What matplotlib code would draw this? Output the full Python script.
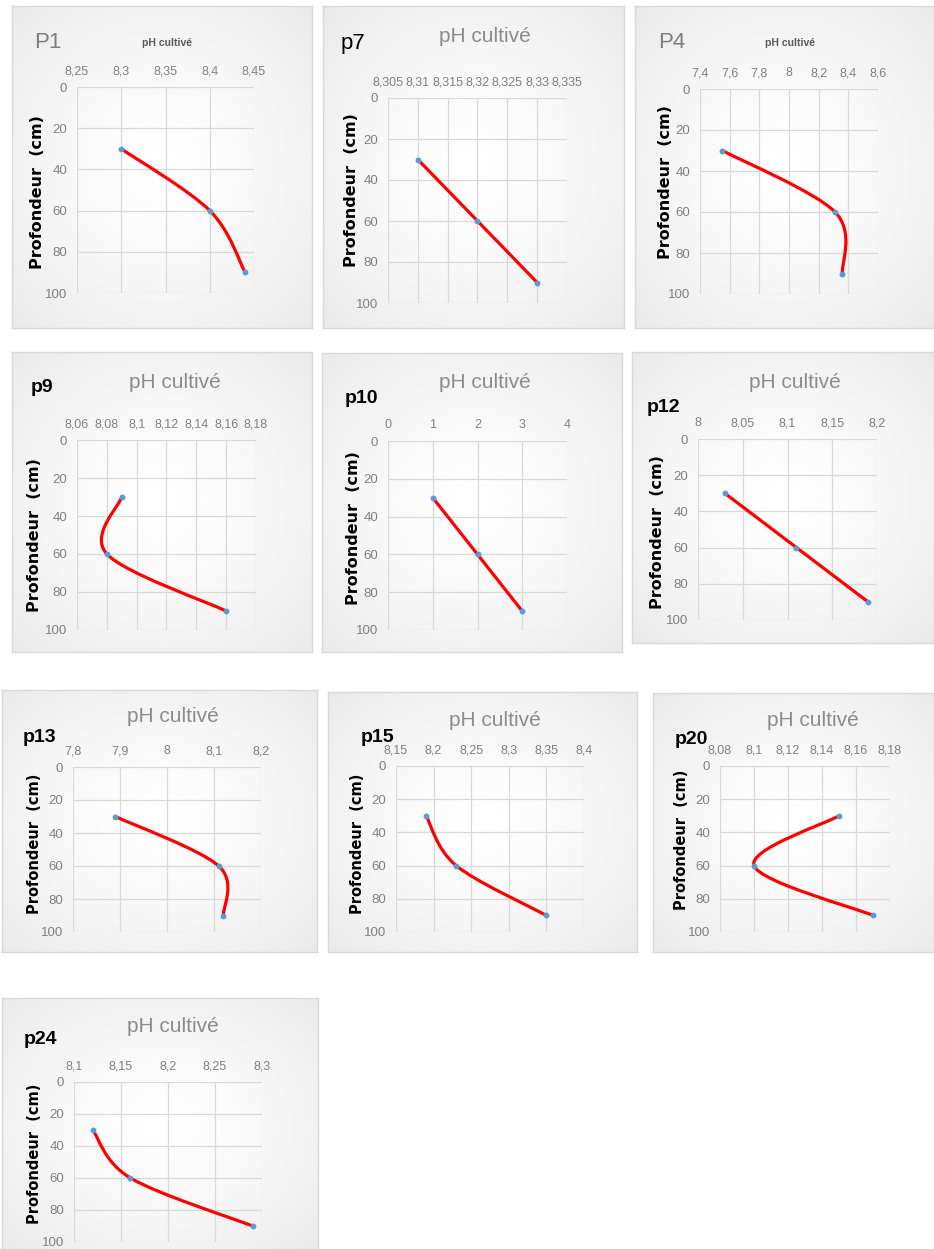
import numpy as np
import matplotlib

matplotlib.use("Agg")
import matplotlib.pyplot as plt
from matplotlib.path import Path
from matplotlib.patches import PathPatch

W, H = 934, 1249
NARROW = ["Liberation Sans Narrow", "Liberation Sans", "DejaVu Sans"]
GRID = "#d9d9d9"
TICK = "#808080"

# depth of the three samples (cm)
DEPTH = [30, 60, 90]
Y_TICKS = [0, 20, 40, 60, 80, 100]

# pH per profile
PH_P1 = [8.30, 8.40, 8.44]
PH_P7 = [8.31, 8.32, 8.33]
PH_P4 = [7.55, 8.31, 8.36]
PH_P9 = [8.09, 8.08, 8.16]
PH_P10 = [1, 2, 3]
PH_P12 = [8.03, 8.11, 8.19]
PH_P13 = [7.89, 8.11, 8.12]
PH_P15 = [8.19, 8.23, 8.35]
PH_P20 = [8.15, 8.10, 8.17]
PH_P24 = [8.12, 8.16, 8.29]

# x tick values per profile
XT_P1 = [8.25, 8.3, 8.35, 8.4, 8.45]
XT_P7 = [8.305, 8.31, 8.315, 8.32, 8.325, 8.33, 8.335]
XT_P4 = [7.4, 7.6, 7.8, 8, 8.2, 8.4, 8.6]
XT_P9 = [8.06, 8.08, 8.1, 8.12, 8.14, 8.16, 8.18]
XT_P10 = [0, 1, 2, 3, 4]
XT_P12 = [8, 8.05, 8.1, 8.15, 8.2]
XT_P13 = [7.8, 7.9, 8, 8.1, 8.2]
XT_P15 = [8.15, 8.2, 8.25, 8.3, 8.35, 8.4]
XT_P20 = [8.08, 8.1, 8.12, 8.14, 8.16, 8.18]
XT_P24 = [8.1, 8.15, 8.2, 8.25, 8.3]

# name, values, ticks, box px, plot px, name xy, name style, title xy, title style, ylabel xy, ylabel size
PANELS = [
    ("P1", PH_P1, XT_P1, (12, 6, 312, 328), (77, 87, 254, 293), (48, 43), "gray", (167, 43), "small", (38, 192), 11.5),
    ("p7", PH_P7, XT_P7, (323, 6, 624, 328), (388, 98, 567, 303), (353, 43), "black", (485, 37), "big", (352, 190), 11.5),
    ("P4", PH_P4, XT_P4, (635, 6, 934, 328), (700, 89, 878, 294), (672, 43), "gray", (790, 43), "small", (665, 182), 11.5),
    ("p9", PH_P9, XT_P9, (12, 352, 312, 652), (77, 440, 256, 630), (42, 388), "bold", (175, 383), "big", (35, 535), 11.5),
    ("p10", PH_P10, XT_P10, (322, 353, 622, 652), (388, 441, 567, 630), (361, 398), "bold", (485, 382), "big", (353, 528), 11.5),
    ("p12", PH_P12, XT_P12, (632, 352, 934, 643), (698, 439, 877, 620), (663, 408), "bold", (795, 383), "big", (657, 532), 11.5),
    ("p13", PH_P13, XT_P13, (2, 690, 317, 952), (73, 767, 261, 932), (40, 737), "bold", (173, 717), "big", (35, 844), 10.5),
    ("p15", PH_P15, XT_P15, (328, 692, 637, 952), (396, 766, 584, 932), (378, 738), "bold", (495, 720), "big", (358, 844), 10.5),
    ("p20", PH_P20, XT_P20, (653, 693, 934, 952), (720, 766, 890, 932), (691, 740), "bold", (813, 720), "big", (682, 840), 10.5),
    ("p24", PH_P24, XT_P24, (2, 998, 318, 1252), (74, 1082, 262, 1242), (40, 1040), "bold", (173, 1027), "big", (35, 1154), 10.5),
]

NAME_STYLE = {
    "gray": dict(color="#7f7f7f", fontsize=16, fontweight="normal"),
    "black": dict(color="black", fontsize=16, fontweight="normal"),
    "bold": dict(color="black", fontsize=14, fontweight="bold"),
}
TITLE_STYLE = {
    "small": dict(color="#595959", fontsize=7.5, fontweight="bold"),
    "big": dict(color="#8c8c8c", fontsize=15, fontweight="normal"),
}


def rect(x0, y0, x1, y1):
    return [x0 / W, 1 - y1 / H, (x1 - x0) / W, (y1 - y0) / H]


def fxy(x, y):
    return x / W, 1 - y / H


def smooth(xs, ys):
    # Excel-style smoothed line: cubic Bezier through the points
    p = np.column_stack([xs, ys]).astype(float)
    n = len(p)
    verts, codes = [p[0]], [Path.MOVETO]
    for i in range(n - 1):
        prev = p[max(i - 1, 0)]
        nxt = p[min(i + 2, n - 1)]
        c1 = p[i] + (p[i + 1] - prev) / 6
        c2 = p[i + 1] - (nxt - p[i]) / 6
        verts += [c1, c2, p[i + 1]]
        codes += [Path.CURVE4] * 3
    return Path(verts, codes)


fmt = lambda v: f"{v:g}".replace(".", ",")

yy, xx = np.mgrid[-1:1:240j, -1:1:240j]
shade = 1 - 0.085 * np.clip(np.hypot(xx, yy) / np.sqrt(2), 0, 1) ** 1.3

fig = plt.figure(figsize=(W / 100, H / 100), dpi=100, facecolor="white")

for name, ph, xt, box, plot, nxy, nst, txy, tst, lxy, lsize in PANELS:
    bg = fig.add_axes(rect(*box))
    bg.imshow(shade, cmap="gray", vmin=0, vmax=1, aspect="auto", extent=[0, 1, 0, 1])
    bg.set_xticks([])
    bg.set_yticks([])
    for s in bg.spines.values():
        s.set_color(GRID)
        s.set_linewidth(1)

    ax = fig.add_axes(rect(*plot))
    ax.set_facecolor("none")
    ax.set_xlim(xt[0], xt[-1])
    ax.set_ylim(100, 0)
    ax.xaxis.tick_top()
    ax.set_xticks(xt)
    ax.set_xticklabels([fmt(v) for v in xt], family=NARROW, fontsize=9, color=TICK)
    ax.set_yticks(Y_TICKS)
    ax.set_yticklabels([str(v) for v in Y_TICKS], family=NARROW, fontsize=9.5, color=TICK)
    ax.tick_params(length=0)
    ax.tick_params(axis="x", pad=7)
    ax.tick_params(axis="y", pad=7)
    ax.grid(True, color=GRID, lw=0.9)
    ax.set_axisbelow(True)
    for s in ax.spines.values():
        s.set_visible(False)

    ax.add_patch(PathPatch(smooth(ph, DEPTH), fill=False, edgecolor="#ff0000",
                           lw=2.3, capstyle="round", zorder=3))
    ax.plot(ph, DEPTH, "o", color="#5b9bd5", ms=3.2, mec="#5b9bd5", zorder=4, clip_on=False)

    fig.text(*fxy(*nxy), name, ha="center", va="center", family=NARROW, **NAME_STYLE[nst])
    fig.text(*fxy(*txy), "pH cultivé", ha="center", va="center", family=NARROW, **TITLE_STYLE[tst])
    fig.text(*fxy(*lxy), "Profondeur  (cm)", ha="center", va="center", rotation=90,
             fontsize=lsize, fontweight="bold", color="black")

fig.savefig("out.png", dpi=100, facecolor="white")
